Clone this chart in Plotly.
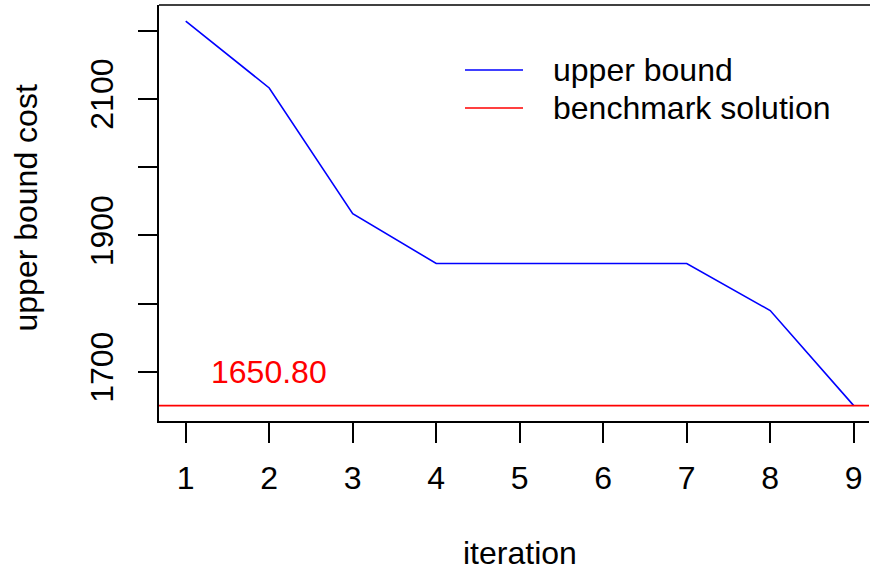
import plotly.graph_objects as go

iterations = [1, 2, 3, 4, 5, 6, 7, 8, 9]
upper_bound = [2214, 2116, 1932, 1859, 1859, 1859, 1859, 1790, 1650.8]
benchmark = 1650.80
benchmark_label = "1650.80"
y_tickvals = [1700, 1800, 1900, 2000, 2100, 2200]
y_ticktext = ["1700", "", "1900", "", "2100", ""]
x_range = [0.68, 9.183]
y_range = [1628.3, 2237.5]

FONT = "Liberation Sans, Arial, Helvetica, sans-serif"
FS = 32

fig = go.Figure()
fig.add_trace(go.Scatter(x=iterations, y=upper_bound, mode="lines",
                         line=dict(color="#0000FF", width=1.6),
                         name="upper bound", showlegend=False))
fig.add_trace(go.Scatter(x=[x_range[0], x_range[1]], y=[benchmark, benchmark], mode="lines",
                         line=dict(color="#FF0000", width=1.6),
                         name="benchmark solution", showlegend=False))
fig.add_annotation(x=2, y=1700, text=benchmark_label, showarrow=False,
                   font=dict(color="#FF0000", size=FS, family=FONT),
                   xanchor="center", yanchor="middle")

# legend (manual)
fig.add_shape(type="line", xref="paper", yref="paper", x0=(465-159)/710, x1=(523-159)/710,
              y0=(421-70)/416, y1=(421-70)/416, line=dict(color="#0000FF", width=1.6))
fig.add_shape(type="line", xref="paper", yref="paper", x0=(465-159)/710, x1=(523-159)/710,
              y0=(421-108)/416, y1=(421-108)/416, line=dict(color="#FF0000", width=1.6))
fig.add_annotation(xref="paper", yref="paper", x=(551-159)/710, y=(421-70)/416,
                   text="upper bound", showarrow=False, xanchor="left", yanchor="middle",
                   font=dict(size=FS, family=FONT, color="black"))
fig.add_annotation(xref="paper", yref="paper", x=(551-159)/710, y=(421-108)/416,
                   text="benchmark solution", showarrow=False, xanchor="left", yanchor="middle",
                   font=dict(size=FS, family=FONT, color="black"))

# top border
fig.add_shape(type="line", xref="paper", yref="paper", x0=0, x1=1.02, y0=1, y1=1,
              line=dict(color="black", width=1.5))

# axis titles
fig.add_annotation(xref="paper", yref="paper", x=(520-159)/710, y=(421-553)/416,
                   text="iteration", showarrow=False, xanchor="center", yanchor="middle",
                   font=dict(size=FS, family=FONT, color="black"))
fig.add_annotation(xref="paper", yref="paper", x=(25-159)/710, y=(421-208.5)/416,
                   text="upper bound cost", showarrow=False, textangle=-90,
                   xanchor="center", yanchor="middle",
                   font=dict(size=FS, family=FONT, color="black"))

fig.update_layout(
    width=870, height=573,
    margin=dict(l=159, r=1, t=5, b=152),
    plot_bgcolor="white", paper_bgcolor="white",
    font=dict(family=FONT, size=FS, color="black"),
    showlegend=False,
    xaxis=dict(range=x_range, tickvals=iterations, ticks="outside", ticklen=20,
               tickwidth=1.5, tickcolor="black", showline=True, linecolor="black",
               linewidth=1.5, showgrid=False, zeroline=False,
               tickfont=dict(size=FS, family=FONT), ticklabelstandoff=8),
    yaxis=dict(range=y_range, tickvals=y_tickvals, ticktext=y_ticktext, ticks="outside",
               ticklen=19, tickwidth=1.5, tickcolor="black", showline=True,
               linecolor="black", linewidth=1.5, showgrid=False, zeroline=False,
               tickangle=-90, tickfont=dict(size=FS, family=FONT), ticklabelstandoff=12),
)

fig.write_html("out.html")
